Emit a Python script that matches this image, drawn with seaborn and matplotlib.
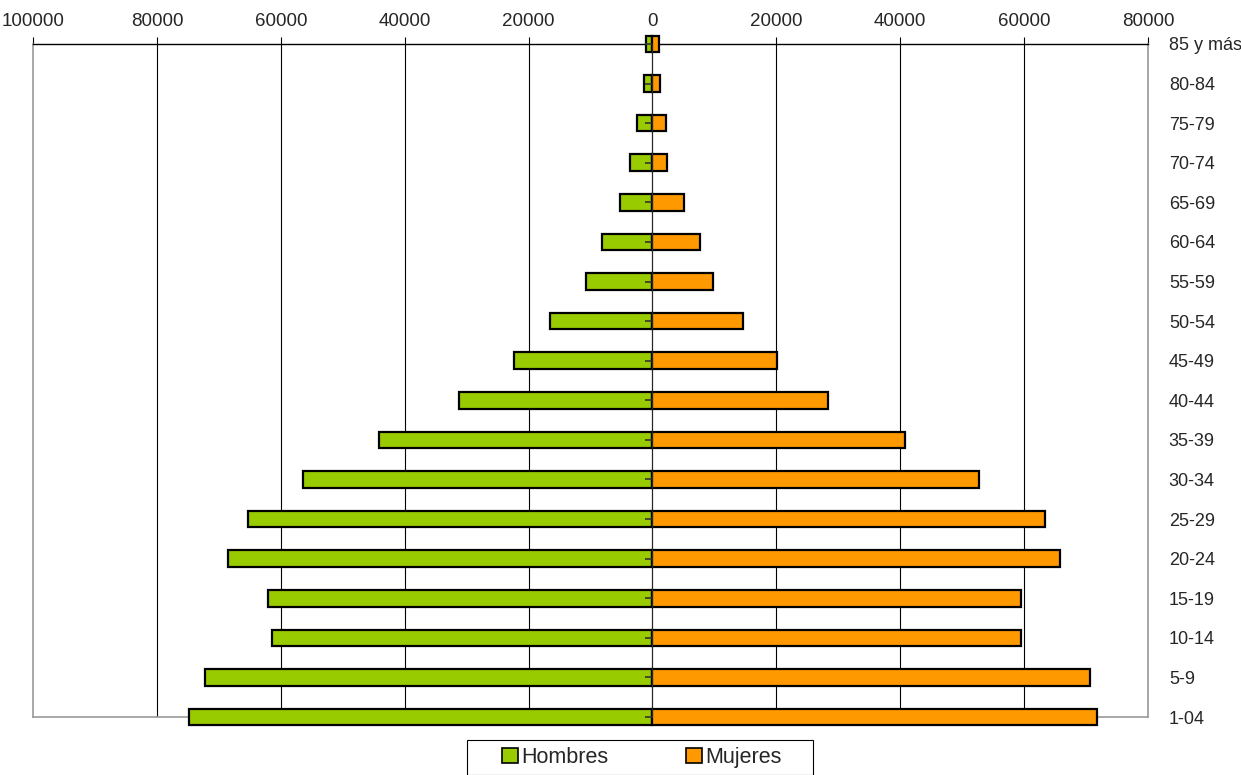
import matplotlib
matplotlib.use("Agg")
import matplotlib.pyplot as plt
import numpy as np
import pandas as pd
import seaborn as sns

# age groups, top to bottom
edades = ["85 y más", "80-84", "75-79", "70-74", "65-69", "60-64", "55-59",
          "50-54", "45-49", "40-44", "35-39", "30-34", "25-29", "20-24",
          "15-19", "10-14", "5-9", "1-04"]
hombres = [1050, 1300, 2500, 3600, 5200, 8200, 10800, 16500, 22400, 31200,
           44100, 56400, 65300, 68600, 62100, 61400, 72200, 74800]
mujeres = [1000, 1300, 2200, 2300, 5100, 7600, 9800, 14600, 20100, 28300,
           40800, 52700, 63400, 65800, 59500, 59500, 70600, 71700]
ticks = list(range(-100000, 80001, 20000))

df = pd.concat([
    pd.DataFrame({"edad": edades, "valor": [-h for h in hombres], "sexo": "Hombres"}),
    pd.DataFrame({"edad": edades, "valor": mujeres, "sexo": "Mujeres"}),
])

sns.set_style("white")
plt.rcParams["font.family"] = ["Liberation Sans", "DejaVu Sans"]

fig = plt.figure(figsize=(12.41, 7.75), dpi=100)
ax = fig.add_axes([33 / 1241, 1 - 717 / 775, 1115 / 1241, 673 / 775])

sns.barplot(data=df, x="valor", y="edad", hue="sexo", order=edades, dodge=False,
            palette={"Hombres": "#99CC00", "Mujeres": "#FF9900"}, saturation=1,
            edgecolor="black", linewidth=1.6, width=0.42, orient="h",
            legend=False, ax=ax, zorder=3)
for p in ax.patches:
    p.set_clip_on(False)

ax.set_xlim(-100000, 80000)
ax.set_ylim(len(edades) - 1, 0)

# vertical grid lines
for t in ticks[1:]:
    ax.axvline(t, color="black", lw=0.8, zorder=1)

ax.xaxis.tick_top()
ax.set_xticks(ticks)
ax.set_xticklabels([str(abs(t)) for t in ticks], fontsize=13.5)
ax.tick_params(axis="x", direction="out", length=5, width=0.8, color="black", pad=5)

ax.yaxis.tick_right()
ax.tick_params(axis="y", length=0, pad=15, labelsize=13)
ax.set_xlabel("")
ax.set_ylabel("")

for s in ["left", "right", "bottom"]:
    ax.spines[s].set_color("#999999")
    ax.spines[s].set_linewidth(1.2)
ax.spines["top"].set_color("black")
ax.spines["top"].set_linewidth(1.0)

# small category ticks on the zero axis
zero_pos = 100000 / 180000
sec = ax.secondary_yaxis(zero_pos)
sec.set_zorder(10)
sec.set_yticks(range(len(edades)))
sec.set_yticklabels([])
sec.spines["left"].set_visible(False)
sec.tick_params(axis="y", direction="in", length=5, width=1.2, color="#333333")

# legend box
fig.patches.append(plt.Rectangle((467 / 1241, 0.0), 346 / 1241, 35 / 775,
                                 transform=fig.transFigure, facecolor="white",
                                 edgecolor="black", lw=0.8, zorder=5))
handles = [plt.Rectangle((0, 0), 1, 1, facecolor=c, edgecolor="black", lw=1.2)
           for c in ["#99CC00", "#FF9900"]]
leg = fig.legend(handles, ["Hombres", "Mujeres"], loc="center",
                 bbox_to_anchor=(642 / 1241, 17.5 / 775), ncol=2,
                 fontsize=15.5, frameon=False,
                 handlelength=0.75, handleheight=0.75, handletextpad=0.15,
                 columnspacing=3.6, borderpad=0.2, borderaxespad=0)
leg.set_zorder(6)

fig.savefig("out.png", dpi=100)
